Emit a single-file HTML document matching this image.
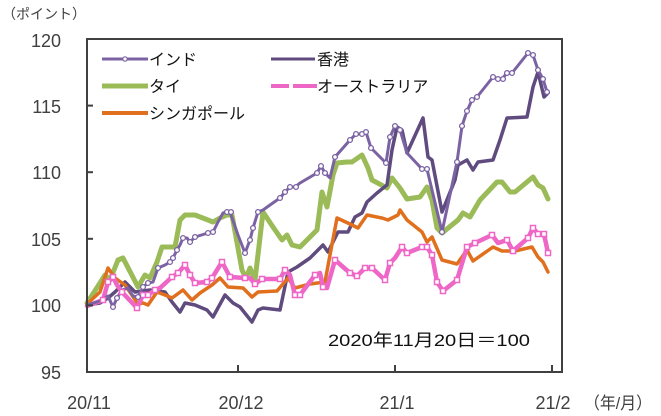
<!DOCTYPE html>
<html><head><meta charset="utf-8"><style>
html,body{margin:0;padding:0;background:#fff;}
svg{display:block;}
text{font-family:"Liberation Sans","Noto Sans CJK JP",sans-serif;}
</style></head><body>
<svg width="661" height="416" viewBox="0 0 661 416" xmlns="http://www.w3.org/2000/svg">
<rect width="661" height="416" fill="#fff"/>
<text x="2" y="19" font-size="14" fill="#404040">（ポイント）</text>
<g font-size="18" fill="#404040" text-anchor="end">
<text x="61" y="47">120</text>
<text x="61" y="113">115</text>
<text x="61" y="179">110</text>
<text x="61" y="246">105</text>
<text x="61" y="312">100</text>
<text x="61" y="379">95</text>
</g>
<g font-size="18" fill="#404040" text-anchor="middle">
<text x="89" y="409">20/11</text>
<text x="241" y="409">20/12</text>
<text x="397" y="409">21/1</text>
<text x="553" y="409">21/2</text>
</g>
<text x="584" y="409" font-size="17" fill="#404040" textLength="68" lengthAdjust="spacingAndGlyphs">（年/月）</text>

<g fill="none" stroke-linejoin="round" stroke-linecap="round">
<polyline stroke="#9BBB59" stroke-width="5" points="87,303 100,283 105,275 110,280 118,260 123,258 138,287 145,275 150,278 157,262 162,247 175,247 180,220 185,215 195,215 208,220 213,222 220,218 227,215 232,215 242,270 246,278 250,268 255,280 263,212 273,227 282,240 287,235 292,245 300,247 317,230 322,192 327,207 333,175 337,163 347,162 352,162 362,155 368,168 372,180 387,188 392,178 400,188 407,199 420,197 427,187 432,200 437,228 442,233 458,220 463,213 470,217 480,200 497,182 502,182 510,192 515,192 533,177 538,185 543,188 548,199"/>
<polyline stroke="#5F4B7E" stroke-width="3.5" points="87,305 100,303 108,298 115,292 125,282 135,292 150,290 165,292 172,302 180,312 185,303 195,305 207,310 213,317 225,295 233,303 240,307 252,322 258,310 263,308 280,310 288,272 297,267 310,258 323,245 328,252 338,232 348,232 355,217 362,213 367,202 377,193 387,185 392,150 397,127 402,130 407,153 423,118 428,157 432,160 442,212 455,180 458,165 467,160 473,170 478,162 493,160 500,140 507,118 527,117 533,87 538,72 544,97 548,93"/>
<polyline stroke="#E0701E" stroke-width="3.5" points="87,304 100,292 108,268 115,278 125,285 138,304 143,303 148,305 157,292 165,295 172,298 183,290 192,300 200,293 212,285 220,278 228,287 243,288 252,297 258,292 277,291 288,278 295,288 310,284 325,282 330,255 337,218 350,224 358,228 367,215 382,218 388,220 398,215 400,210 407,220 422,232 427,242 432,237 442,260 457,264 467,250 473,261 493,247 502,251 515,251 532,247 538,257 543,262 548,272"/>
<polyline id="aus" stroke="#EE66C6" stroke-width="4.5" points="87,306 103,300 108,282 113,277 117,285 122,292 137,308 143,295 148,295 155,290 160,288 172,277 178,273 185,265 190,275 195,283 207,282 212,278 222,262 230,277 245,278 250,278 255,284 262,279 280,279 285,270 290,275 295,295 300,295 315,275 320,273 323,287 327,288 335,260 350,273 357,276 365,268 372,268 385,280 390,263 395,258 402,247 407,253 422,247 427,247 432,255 437,282 443,291 457,280 467,247 475,243 492,235 498,243 507,240 513,251 528,238 533,228 538,234 544,234 548,253"/>
<polyline stroke="#7B62A3" stroke-width="3" points="87,305 100,301 108,296 113,307 117,298 122,290 128,288 133,296 138,297 143,287 148,283 153,282 158,268 165,265 170,262 173,258 177,250 180,245 183,238 187,238 190,242 195,237 208,233 213,232 218,222 223,213 227,212 230,212 238,235 245,253 250,240 253,228 258,212 263,210 270,205 280,198 285,192 290,187 295,187 300,183 317,173 321,166 325,173 330,178 335,157 350,140 356,134 362,134 366,132 371,148 386,163 390,137 395,126 400,130 407,153 422,169 427,169 442,232 457,162 462,126 467,111 472,100 477,97 493,77 498,79 502,79 507,73 512,73 528,53 533,55 538,70 543,79 547,92"/>
</g>
<!-- Australia markers -->
<g fill="#fff" stroke="#EE66C6" stroke-width="1.5">
<rect x="100.5" y="297.5" width="5" height="5"/><rect x="105.5" y="279.5" width="5" height="5"/><rect x="110.5" y="274.5" width="5" height="5"/><rect x="119.5" y="289.5" width="5" height="5"/><rect x="134.5" y="305.5" width="5" height="5"/><rect x="140.5" y="292.5" width="5" height="5"/><rect x="145.5" y="292.5" width="5" height="5"/><rect x="152.5" y="287.5" width="5" height="5"/><rect x="169.5" y="274.5" width="5" height="5"/><rect x="175.5" y="270.5" width="5" height="5"/><rect x="182.5" y="262.5" width="5" height="5"/><rect x="187.5" y="272.5" width="5" height="5"/><rect x="192.5" y="280.5" width="5" height="5"/><rect x="204.5" y="279.5" width="5" height="5"/><rect x="209.5" y="275.5" width="5" height="5"/><rect x="219.5" y="259.5" width="5" height="5"/><rect x="227.5" y="274.5" width="5" height="5"/><rect x="242.5" y="275.5" width="5" height="5"/><rect x="252.5" y="281.5" width="5" height="5"/><rect x="259.5" y="276.5" width="5" height="5"/><rect x="277.5" y="276.5" width="5" height="5"/><rect x="282.5" y="267.5" width="5" height="5"/><rect x="292.5" y="292.5" width="5" height="5"/><rect x="297.5" y="292.5" width="5" height="5"/><rect x="312.5" y="272.5" width="5" height="5"/><rect x="320.5" y="284.5" width="5" height="5"/><rect x="332.5" y="257.5" width="5" height="5"/><rect x="347.5" y="270.5" width="5" height="5"/><rect x="354.5" y="273.5" width="5" height="5"/><rect x="362.5" y="265.5" width="5" height="5"/><rect x="369.5" y="265.5" width="5" height="5"/><rect x="382.5" y="277.5" width="5" height="5"/><rect x="387.5" y="260.5" width="5" height="5"/><rect x="399.5" y="244.5" width="5" height="5"/><rect x="404.5" y="250.5" width="5" height="5"/><rect x="419.5" y="244.5" width="5" height="5"/><rect x="424.5" y="244.5" width="5" height="5"/><rect x="429.5" y="252.5" width="5" height="5"/><rect x="434.5" y="279.5" width="5" height="5"/><rect x="440.5" y="288.5" width="5" height="5"/><rect x="454.5" y="277.5" width="5" height="5"/><rect x="464.5" y="244.5" width="5" height="5"/><rect x="472.5" y="240.5" width="5" height="5"/><rect x="489.5" y="232.5" width="5" height="5"/><rect x="504.5" y="237.5" width="5" height="5"/><rect x="510.5" y="248.5" width="5" height="5"/><rect x="525.5" y="235.5" width="5" height="5"/><rect x="530.5" y="225.5" width="5" height="5"/><rect x="535.5" y="231.5" width="5" height="5"/><rect x="541.5" y="231.5" width="5" height="5"/><rect x="545.5" y="250.5" width="5" height="5"/>
</g>
<!-- India markers -->
<g fill="#fff" stroke="#7B62A3" stroke-width="1.3">
<circle cx="113" cy="307" r="2.4"/><circle cx="117" cy="298" r="2.4"/><circle cx="138" cy="297" r="2.4"/><circle cx="143" cy="287" r="2.4"/><circle cx="148" cy="283" r="2.4"/><circle cx="158" cy="268" r="2.4"/><circle cx="170" cy="262" r="2.4"/><circle cx="173" cy="258" r="2.4"/><circle cx="177" cy="250" r="2.4"/><circle cx="183" cy="238" r="2.4"/><circle cx="190" cy="242" r="2.4"/><circle cx="195" cy="237" r="2.4"/><circle cx="208" cy="233" r="2.4"/><circle cx="213" cy="232" r="2.4"/><circle cx="227" cy="212" r="2.4"/><circle cx="231" cy="212" r="2.4"/><circle cx="245" cy="253" r="2.4"/><circle cx="250" cy="240" r="2.4"/><circle cx="253" cy="228" r="2.4"/><circle cx="258" cy="212" r="2.4"/><circle cx="280" cy="198" r="2.4"/><circle cx="285" cy="192" r="2.4"/><circle cx="290" cy="187" r="2.4"/><circle cx="296" cy="187" r="2.4"/><circle cx="317" cy="173" r="2.4"/><circle cx="321" cy="166" r="2.4"/><circle cx="325" cy="173" r="2.4"/><circle cx="335" cy="157" r="2.4"/><circle cx="350" cy="140" r="2.4"/><circle cx="356" cy="134" r="2.4"/><circle cx="362" cy="134" r="2.4"/><circle cx="366" cy="132" r="2.4"/><circle cx="371" cy="148" r="2.4"/><circle cx="386" cy="163" r="2.4"/><circle cx="390" cy="137" r="2.4"/><circle cx="395" cy="126" r="2.4"/><circle cx="400" cy="130" r="2.4"/><circle cx="422" cy="169" r="2.4"/><circle cx="427" cy="169" r="2.4"/><circle cx="442" cy="232" r="2.4"/><circle cx="457" cy="162" r="2.4"/><circle cx="462" cy="126" r="2.4"/><circle cx="467" cy="111" r="2.4"/><circle cx="472" cy="100" r="2.4"/><circle cx="477" cy="97" r="2.4"/><circle cx="493" cy="77" r="2.4"/><circle cx="498" cy="79" r="2.4"/><circle cx="503" cy="79" r="2.4"/><circle cx="507" cy="73" r="2.4"/><circle cx="512" cy="73" r="2.4"/><circle cx="528" cy="53" r="2.4"/><circle cx="533" cy="55" r="2.4"/><circle cx="538" cy="70" r="2.4"/><circle cx="543" cy="79" r="2.4"/><circle cx="547" cy="92" r="2.4"/>
</g>

<!-- Legend -->
<line x1="102" y1="59" x2="148" y2="59" stroke="#7B62A3" stroke-width="3"/>
<circle cx="125" cy="59" r="2.2" fill="#fff" stroke="#7B62A3" stroke-width="1.2"/>
<line x1="102" y1="86" x2="148" y2="86" stroke="#9BBB59" stroke-width="5"/>
<line x1="102" y1="113" x2="148" y2="113" stroke="#E0701E" stroke-width="4"/>
<line x1="271" y1="59" x2="315" y2="59" stroke="#5F4B7E" stroke-width="3"/>
<line x1="271" y1="86" x2="317" y2="86" stroke="#EE66C6" stroke-width="4"/>
<rect x="289" y="84" width="4" height="4" fill="#fff"/>
<g font-size="16" fill="#111">
<text x="149" y="65">インド</text>
<text x="149" y="92">タイ</text>
<text x="149" y="119">シンガポール</text>
<text x="317" y="65">香港</text>
<text x="317" y="92">オーストラリア</text>
</g>
<text x="328" y="346" font-size="17" fill="#111" textLength="202" lengthAdjust="spacingAndGlyphs">2020年11月20日＝100</text>

<!-- Axes frame -->
<rect x="87" y="39" width="475" height="333" fill="none" stroke="#404040" stroke-width="2"/>
<g stroke="#404040" stroke-width="2">
<line x1="87" y1="105.6" x2="93" y2="105.6"/>
<line x1="87" y1="172.2" x2="93" y2="172.2"/>
<line x1="87" y1="238.8" x2="93" y2="238.8"/>
<line x1="87" y1="305.4" x2="93" y2="305.4"/>
<line x1="238" y1="372" x2="238" y2="365"/>
<line x1="395" y1="372" x2="395" y2="365"/>
<line x1="552" y1="372" x2="552" y2="365"/>
</g>
</svg>
</body></html>
